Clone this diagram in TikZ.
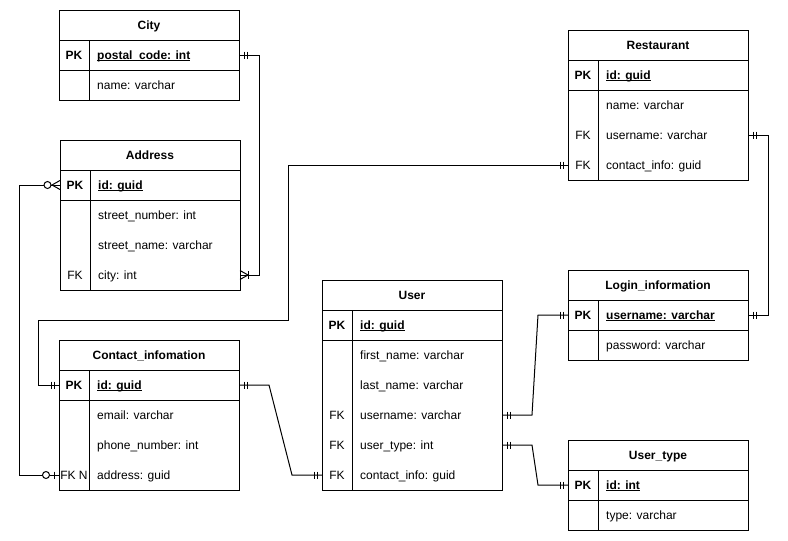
\documentclass[tikz,border=0pt]{standalone}
\usepackage{fontspec}
\setmainfont{Liberation Sans}
\usetikzlibrary{calc}
\newcommand\ulin[1]{\setbox0=\hbox{#1}\copy0\kern-\wd0\rule[-1.8pt]{\wd0}{0.9pt}}
\tikzset{
  conn/.style={line width=1pt},
  tbl/.style={draw, line width=1pt, minimum width=180pt, anchor=north west, inner sep=0pt, outer sep=0pt},
  rowbox/.style={minimum width=180pt, minimum height=30pt, inner sep=0pt, outer sep=0pt},
  ttl/.style={font=\fontsize{12}{14}\selectfont\bfseries, inner sep=0pt, anchor=base},
  keytxt/.style={inner sep=0pt, anchor=base},
  fldtxt/.style={inner sep=0pt, anchor=base west},
}
% table: name, x, ytop, rows, title
\newcommand\ertable[5]{%
  \node[tbl, minimum height={30*(#4+1)}] (#1) at (#2,#3) {};
  \node[ttl] (#1-t) at (#2+90,#3+19.5) {#5};
  \draw[conn] (#2,#3+30) -- (#2+180,#3+30);
  \draw[conn] (#2,#3+60) -- (#2+180,#3+60);
  \draw[conn] (#2+30,#3+30) -- (#2+30,{#3+30*(#4+1)});
}
% row: name, x, ycenter, key, field
\newcommand\errow[5]{%
  \node[rowbox] (#1) at (#2+90,#3) {};
  \node[keytxt] (#1-k) at (#2+15,#3+4.5) {#4};
  \node[fldtxt] (#1-f) at (#2+38,#3+4.5) {#5};
}
% markers: anchor, direction (+1 right / -1 left)
\newcommand\mone[2]{%
  \draw[conn] ($(#1)+(#2*5,-3.5)$) -- ($(#1)+(#2*5,3.5)$);
  \draw[conn] ($(#1)+(#2*8,-3.5)$) -- ($(#1)+(#2*8,3.5)$);
}
\newcommand\zone[2]{%
  \draw[conn] ($(#1)+(#2*5,-3.5)$) -- ($(#1)+(#2*5,3.5)$);
  \draw[conn, fill=white] ($(#1)+(#2*13,0)$) circle[radius=3.5pt];
}
\newcommand\zmany[2]{%
  \draw[conn] ($(#1)+(0,-4.5)$) -- ($(#1)+(#2*8,0)$) -- ($(#1)+(0,4.5)$);
  \draw[conn, fill=white] ($(#1)+(#2*12.5,0)$) circle[radius=3.5pt];
}
\newcommand\omany[2]{%
  \draw[conn] ($(#1)+(0,-4.5)$) -- ($(#1)+(#2*8,0)$) -- ($(#1)+(0,4.5)$);
  \draw[conn] ($(#1)+(#2*8,-4)$) -- ($(#1)+(#2*8,4)$);
}
\begin{document}
\begin{tikzpicture}[x=1pt, y=-1pt, font=\fontsize{12}{14}\selectfont]
\fill[white] (0,0) rectangle (788,541);
\useasboundingbox (0,0) rectangle (788,541);

% City
\ertable{city}{59}{10}{2}{City}
\errow{cityPK}{59}{55}{\textbf{PK}}{\ulin{\textbf{postal\_code: int}}}
\errow{cityName}{59}{85}{}{name: varchar}

% Address
\ertable{addr}{60}{140}{4}{Address}
\errow{addrPK}{60}{185}{\textbf{PK}}{\ulin{\textbf{id: guid}}}
\errow{addrNum}{60}{215}{}{street\_number: int}
\errow{addrStreet}{60}{245}{}{street\_name: varchar}
\errow{addrCity}{60}{275}{FK}{city: int}

% Contact
\ertable{ct}{59}{340}{4}{Contact\_infomation}
\errow{ctPK}{59}{385}{\textbf{PK}}{\ulin{\textbf{id: guid}}}
\errow{ctEmail}{59}{415}{}{email: varchar}
\errow{ctPhone}{59}{445}{}{phone\_number: int}
\errow{ctAddr}{59}{475}{FK N}{address: guid}

% User
\ertable{us}{322}{280}{6}{User}
\errow{usPK}{322}{325}{\textbf{PK}}{\ulin{\textbf{id: guid}}}
\errow{usFirst}{322}{355}{}{first\_name: varchar}
\errow{usLast}{322}{385}{}{last\_name: varchar}
\errow{usUser}{322}{415}{FK}{username: varchar}
\errow{usType}{322}{445}{FK}{user\_type: int}
\errow{usCI}{322}{475}{FK}{contact\_info: guid}

% Restaurant
\ertable{rs}{568}{30}{4}{Restaurant}
\errow{rsPK}{568}{75}{\textbf{PK}}{\ulin{\textbf{id: guid}}}
\errow{rsName}{568}{105}{}{name: varchar}
\errow{rsUser}{568}{135}{FK}{username: varchar}
\errow{rsCI}{568}{165}{FK}{contact\_info: guid}

% Login
\ertable{lg}{568}{270}{2}{Login\_information}
\errow{lgPK}{568}{315}{\textbf{PK}}{\ulin{\textbf{username: varchar}}}
\errow{lgPass}{568}{345}{}{password: varchar}

% User_type
\ertable{ut}{568}{440}{2}{User\_type}
\errow{utPK}{568}{485}{\textbf{PK}}{\ulin{\textbf{id: int}}}
\errow{utType}{568}{515}{}{type: varchar}

% helper coordinates
\coordinate (xl) at (19,0);
\coordinate (j1) at (38,320);
\coordinate (j2) at (288,165);

% connectors
\draw[conn] (cityPK.east) -- ++(20,0) |- (addrCity.east);
\draw[conn] (addrPK.west) -- (addrPK.west -| xl) |- (ctAddr.west);
\draw[conn] (ctPK.west) -| (j1) -| (j2) -- (rsCI.west);
\draw[conn] (ctPK.east) -- ++(30,0) -- ($(usCI.west)+(-30,0)$) -- (usCI.west);
\draw[conn] (usUser.east) -- ++(30,0) -- ($(lgPK.west)+(-30,0)$) -- (lgPK.west);
\draw[conn] (usType.east) -- ++(30,0) -- ($(utPK.west)+(-30,0)$) -- (utPK.west);
\draw[conn] (rsUser.east) -- ++(20,0) |- (lgPK.east);

% markers
\mone{cityPK.east}{1}
\omany{addrCity.east}{1}
\zmany{addrPK.west}{-1}
\zone{ctAddr.west}{-1}
\mone{ctPK.west}{-1}
\mone{rsCI.west}{-1}
\mone{ctPK.east}{1}
\mone{usCI.west}{-1}
\mone{usUser.east}{1}
\mone{lgPK.west}{-1}
\mone{usType.east}{1}
\mone{utPK.west}{-1}
\mone{rsUser.east}{1}
\mone{lgPK.east}{1}
\end{tikzpicture}
\end{document}
